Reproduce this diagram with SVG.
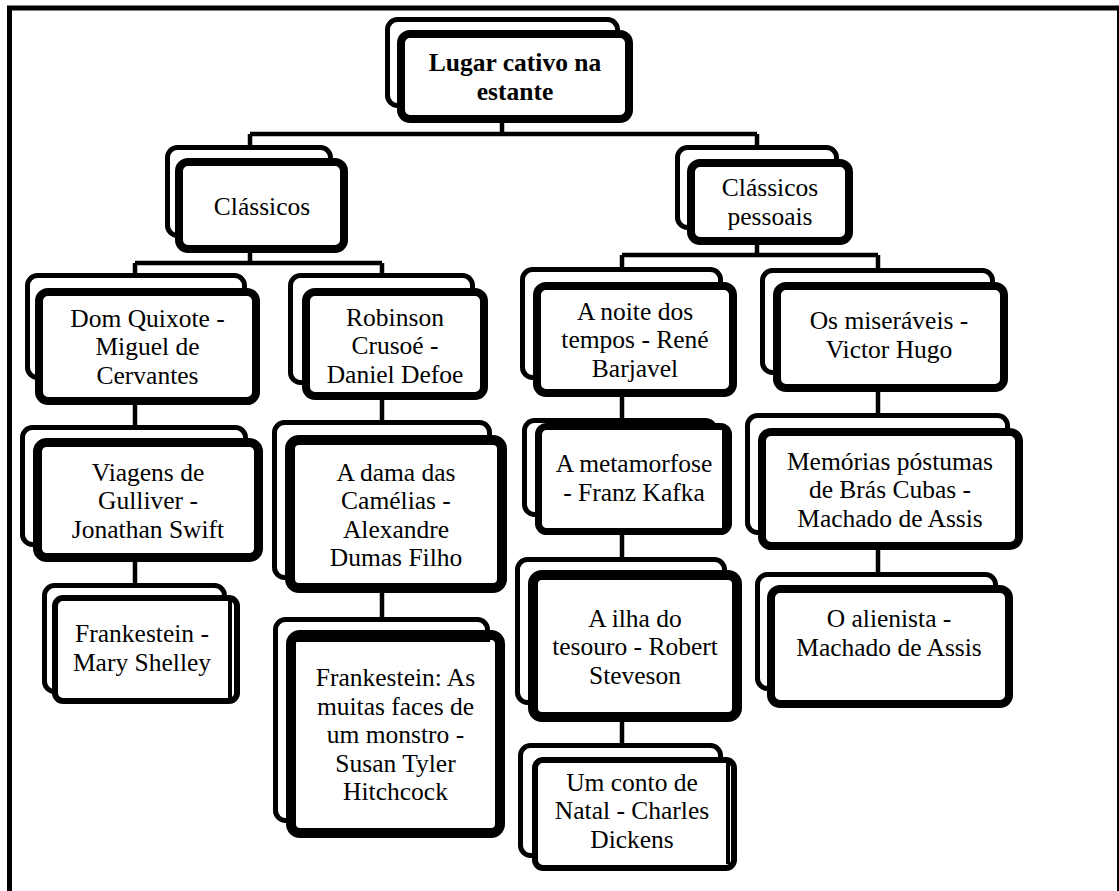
<svg xmlns="http://www.w3.org/2000/svg" width="1119" height="891" viewBox="0 0 1119 891">
<style>
.frame{fill:none;stroke:#000;stroke-width:5}
.back{fill:#fff;stroke:#000;stroke-width:5}
.front{fill:#fff;stroke:#000}
.con{fill:none;stroke:#000;stroke-width:4.5}
.art{fill:none;stroke:#000;stroke-width:4}
text{font-family:'Liberation Serif','Times New Roman',serif;font-size:25.5px;fill:#000;text-anchor:middle}
.b{font-weight:bold}
</style>
<rect width="1119" height="891" fill="#fff"/>
<rect class="frame" x="9.5" y="8" width="1110" height="900"/>
<g id="connectors">
<path class="con" d="M502,120 V134 M250,134 H757 M250,134 V148 M757,134 V148"/>
<path class="con" d="M250,250 V263 M135,263 H382 M135,263 V276 M382,263 V276"/>
<path class="con" d="M757,242 V255 M622,255 H878 M622,255 V270 M878,255 V271"/>
<path class="con" d="M135,402 V428 M135,559 V586"/>
<path class="con" d="M382,397 V423 M382,590 V620"/>
<path class="con" d="M622,394 V421 M622,532 V560 M622,719 V746"/>
<path class="con" d="M878,389 V416 M878,547 V575"/>
</g>
<g id="root">
<rect class="back" x="387.5" y="19.5" width="230" height="86" rx="10"/>
<rect class="front" stroke-width="8" x="401" y="34" width="228" height="85" rx="9"/>
<text class="b" x="515" y="71.25">Lugar cativo na<tspan x="515" dy="28.5">estante</tspan></text>
</g>
<g id="classicos">
<rect class="back" x="167.5" y="147.5" width="163" height="88" rx="10"/>
<rect class="front" stroke-width="8" x="179" y="162" width="165" height="87" rx="9"/>
<text x="262" y="215">Clássicos</text>
</g>
<g id="classicos-pessoais">
<rect class="back" x="677.5" y="147.5" width="159" height="80" rx="10"/>
<rect class="front" stroke-width="8" x="691" y="163" width="158" height="78" rx="9"/>
<text x="770" y="196.25">Clássicos<tspan x="770" dy="28.5">pessoais</tspan></text>
</g>
<g id="dom-quixote">
<rect class="back" x="27.5" y="275.5" width="217" height="102" rx="10"/>
<rect class="front" stroke-width="8" x="39" y="292" width="217" height="109" rx="9"/>
<text x="147.5" y="326.5">Dom Quixote -<tspan x="147.5" dy="28.5">Miguel de</tspan><tspan x="147.5" dy="28.5">Cervantes</tspan></text>
</g>
<g id="viagens">
<rect class="back" x="22.5" y="427.5" width="223" height="117" rx="10"/>
<rect class="front" stroke-width="9" x="37.5" y="442.5" width="221" height="115" rx="9"/>
<text x="148" y="480.5">Viagens de<tspan x="148" dy="28.5">Gulliver -</tspan><tspan x="148" dy="28.5">Jonathan Swift</tspan></text>
</g>
<g id="frankestein-shelley">
<rect class="back" x="44.5" y="585.5" width="180" height="106" rx="10"/>
<rect class="front" stroke-width="6" x="55" y="598" width="182" height="103" rx="8"/>
<path class="art" d="M230,600 V699"/>
<text x="142" y="642.25">Frankestein -<tspan x="142" dy="28.5">Mary Shelley</tspan></text>
</g>
<g id="robinson">
<rect class="back" x="290.5" y="275.5" width="182" height="107" rx="10"/>
<rect class="front" stroke-width="8" x="306" y="292" width="178" height="104" rx="9"/>
<text x="395" y="325.5">Robinson<tspan x="395" dy="28.5">Crusoé -</tspan><tspan x="395" dy="28.5">Daniel Defoe</tspan></text>
</g>
<g id="dama-camelias">
<rect class="back" x="274.5" y="422.5" width="215" height="155" rx="10"/>
<rect class="front" stroke-width="10" x="290" y="440" width="212" height="148" rx="9"/>
<text x="396" y="480.75">A dama das<tspan x="396" dy="28.5">Camélias -</tspan><tspan x="396" dy="28.5">Alexandre</tspan><tspan x="396" dy="28.5">Dumas Filho</tspan></text>
</g>
<g id="frankestein-hitchcock">
<rect class="back" x="275.5" y="619.5" width="212" height="201" rx="10"/>
<rect class="front" stroke-width="10" x="291" y="635" width="209" height="198" rx="9"/>
<path class="art" stroke-width="2" d="M296,640 H490"/>
<text x="395.5" y="686">Frankestein: As<tspan x="395.5" dy="28.5">muitas faces de</tspan><tspan x="395.5" dy="28.5">um monstro -</tspan><tspan x="395.5" dy="28.5">Susan Tyler</tspan><tspan x="395.5" dy="28.5">Hitchcock</tspan></text>
</g>
<g id="noite-tempos">
<rect class="back" x="522.5" y="269.5" width="198" height="108" rx="10"/>
<rect class="front" stroke-width="8" x="537" y="286" width="196" height="107" rx="9"/>
<text x="635" y="319.5">A noite dos<tspan x="635" dy="28.5">tempos - René</tspan><tspan x="635" dy="28.5">Barjavel</tspan></text>
</g>
<g id="metamorfose">
<rect class="back" x="524.5" y="420.5" width="191" height="94" rx="10"/>
<rect class="front" stroke-width="7" x="538.5" y="426.5" width="190" height="105" rx="8"/>
<path class="art" d="M724,428 V528"/>
<text x="634" y="472.25">A metamorfose<tspan x="634" dy="28.5">- Franz Kafka</tspan></text>
</g>
<g id="ilha-tesouro">
<rect class="back" x="517.5" y="559.5" width="207" height="143" rx="10"/>
<rect class="front" stroke-width="10" x="533" y="575" width="204" height="142" rx="9"/>
<text x="635" y="626.5">A ilha do<tspan x="635" dy="28.5">tesouro - Robert</tspan><tspan x="635" dy="28.5">Steveson</tspan></text>
</g>
<g id="conto-natal">
<rect class="back" x="520.5" y="745.5" width="200" height="110" rx="10"/>
<rect class="front" stroke-width="6" x="535" y="760" width="199" height="108" rx="8"/>
<path class="art" d="M728,762 V864"/>
<text x="632" y="790.5">Um conto de<tspan x="632" dy="28.5">Natal - Charles</tspan><tspan x="632" dy="28.5">Dickens</tspan></text>
</g>
<g id="miseraveis">
<rect class="back" x="762.5" y="270.5" width="230" height="102" rx="10"/>
<rect class="front" stroke-width="8" x="777" y="286" width="227" height="102" rx="9"/>
<text x="889" y="329.25">Os miseráveis -<tspan x="889" dy="28.5">Victor Hugo</tspan></text>
</g>
<g id="memorias">
<rect class="back" x="747.5" y="415.5" width="260" height="117" rx="10"/>
<rect class="front" stroke-width="8" x="762" y="432" width="257" height="114" rx="9"/>
<text x="890" y="469.5">Memórias póstumas<tspan x="890" dy="28.5">de Brás Cubas -</tspan><tspan x="890" dy="28.5">Machado de Assis</tspan></text>
</g>
<g id="alienista">
<rect class="back" x="757.5" y="574.5" width="238" height="114" rx="10"/>
<rect class="front" stroke-width="8" x="771" y="589" width="238" height="115" rx="9"/>
<text x="889" y="627.25">O alienista -<tspan x="889" dy="28.5">Machado de Assis</tspan></text>
</g>
</svg>
